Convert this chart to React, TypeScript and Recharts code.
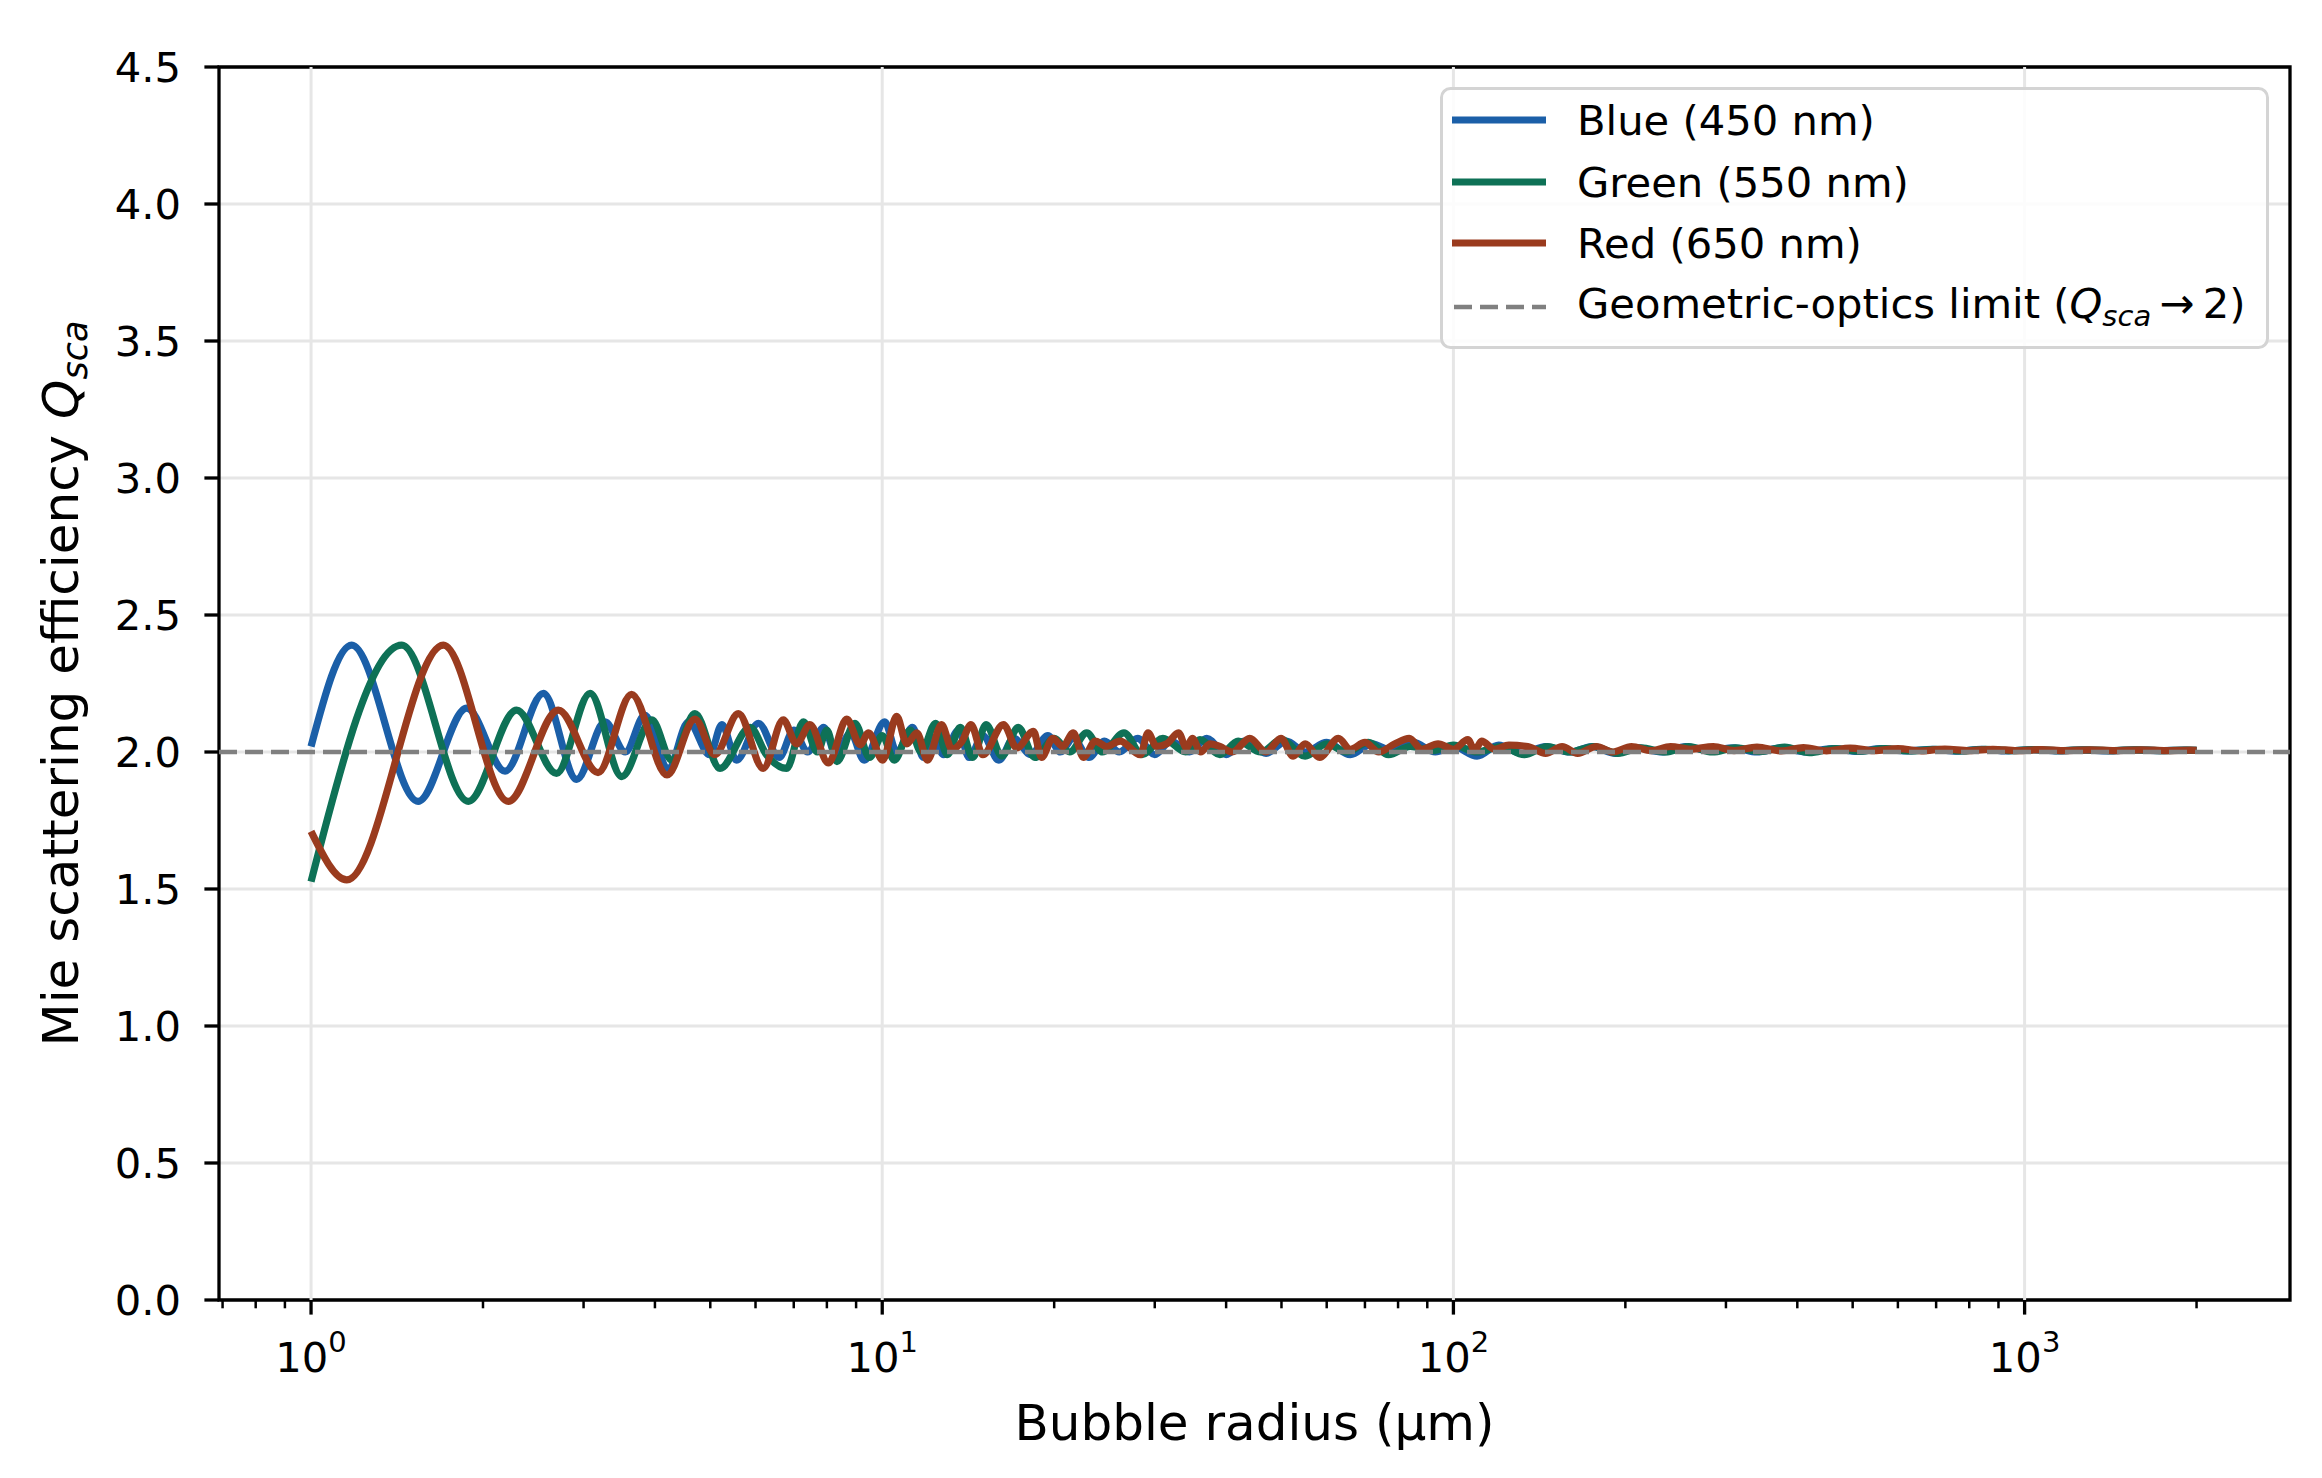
import React from 'react';
import { LineChart, Line, XAxis, YAxis, CartesianGrid, ReferenceLine, ReferenceArea } from 'recharts';

// [bubble radius (µm), Q_sca]
const bluePoints: [number, number][] = [
  [1.0, 2.02], [1.178, 2.39], [1.54, 1.82], [1.873, 2.16], [2.186, 1.93], [2.551, 2.214], [2.918, 1.9],
  [3.27, 2.11], [3.55, 2.0], [3.84, 2.135], [4.22, 1.94], [4.58, 2.11], [4.99, 1.99], [5.24, 2.1],
  [5.56, 1.97], [6.07, 2.105], [6.6, 1.98], [7.0, 2.08], [7.4, 2.0], [7.9, 2.09], [8.3, 1.99], [8.8, 2.07],
  [9.3, 1.97], [10.1, 2.11], [10.6, 2.0], [11.3, 2.09], [11.8, 1.98], [12.3, 2.05], [12.8, 1.99],
  [13.6, 2.08], [14.2, 1.98], [15.0, 2.06], [16.0, 1.97], [17.0, 2.05], [18.2, 1.99], [19.5, 2.06],
  [20.5, 2.0], [21.6, 2.05], [23.0, 1.98], [24.5, 2.04], [26.0, 2.0], [28.0, 2.05], [30.0, 1.99],
  [32.0, 2.04], [34.5, 2.0], [37.0, 2.05], [40.0, 1.99], [43.0, 2.04], [47.0, 1.995], [51.0, 2.04],
  [55.0, 2.0], [60.0, 2.035], [66.0, 1.99], [72.0, 2.03], [78.0, 2.005], [85.0, 2.035], [93.0, 2.0],
  [100, 2.02], [110, 1.985], [120, 2.025], [132, 1.995], [145, 2.02], [160, 2.0], [175, 2.02],
  [192, 1.995], [210, 2.015], [232, 2.0], [255, 2.02], [280, 2.005], [310, 2.015], [340, 2.0],
  [375, 2.015], [415, 2.0], [460, 2.012], [510, 2.002], [560, 2.012], [620, 2.004], [690, 2.01],
  [760, 2.003], [840, 2.01], [930, 2.004], [1030, 2.009], [1140, 2.004], [1260, 2.008], [1400, 2.004],
  [1550, 2.008], [1720, 2.005], [1900, 2.007], [2000, 2.006],
];

const greenPoints: [number, number][] = [
  [1.0, 1.527], [1.442, 2.39], [1.886, 1.82], [2.29, 2.153], [2.69, 1.922], [3.08, 2.214], [3.5, 1.91],
  [3.95, 2.117], [4.28, 1.97], [4.7, 2.14], [5.2, 1.94], [5.87, 2.09], [6.27, 1.99], [6.8, 1.94],
  [7.28, 2.11], [7.7, 2.0], [8.0, 2.08], [8.33, 1.965], [8.96, 2.105], [9.5, 1.98], [10.0, 2.06],
  [10.5, 1.97], [11.2, 2.08], [11.7, 2.0], [12.4, 2.105], [13.0, 1.99], [13.7, 2.09], [14.4, 1.98],
  [15.2, 2.1], [16.2, 1.985], [17.3, 2.09], [18.5, 1.98], [20.0, 2.05], [21.3, 2.0], [22.8, 2.07],
  [24.3, 2.0], [26.5, 2.07], [28.5, 1.99], [31, 2.05], [34, 2.0], [36, 2.045], [39, 1.99], [42, 2.04],
  [46, 2.0], [50, 2.045], [55, 1.985], [60, 2.03], [65, 2.0], [71, 2.035], [77, 1.99], [84, 2.02],
  [92, 2.005], [100, 2.025], [110, 2.0], [121, 2.02], [133, 1.99], [146, 2.02], [160, 2.0], [176, 2.02],
  [194, 1.995], [213, 2.015], [235, 2.0], [258, 2.02], [284, 2.0], [312, 2.015], [345, 2.002],
  [380, 2.018], [420, 1.998], [465, 2.012], [515, 2.003], [570, 2.012], [630, 2.004], [700, 2.01],
  [775, 2.004], [855, 2.01], [945, 2.005], [1045, 2.009], [1160, 2.005], [1280, 2.008], [1420, 2.005],
  [1570, 2.008], [1740, 2.005], [1920, 2.007], [2000, 2.006],
];

const redPoints: [number, number][] = [
  [1.0, 1.71], [1.155, 1.533], [1.705, 2.39], [2.215, 1.82], [2.71, 2.153], [3.18, 1.925], [3.64, 2.21],
  [4.2, 1.916], [4.7, 2.12], [5.09, 1.99], [5.6, 2.14], [6.19, 1.94], [6.71, 2.117], [7.08, 2.03],
  [7.47, 2.1], [8.05, 1.96], [8.67, 2.12], [9.15, 2.026], [9.46, 2.07], [10.02, 1.97], [10.6, 2.13],
  [11.04, 2.03], [11.5, 2.07], [12.0, 1.97], [12.7, 2.1], [13.25, 2.01], [13.8, 2.04], [14.3, 2.1],
  [15.0, 1.99], [16.3, 2.1], [17.2, 2.015], [18.4, 2.075], [19.0, 1.98], [19.9, 2.05], [20.7, 2.02],
  [21.6, 2.07], [22.5, 1.98], [23.6, 2.04], [24.7, 2.02], [26.1, 2.04], [28.3, 1.99], [29.2, 2.07],
  [30.2, 2.02], [31.5, 2.03], [33.0, 2.07], [34.1, 2.015], [34.9, 2.05], [36.1, 2.0], [37.5, 2.03],
  [39, 2.02], [41, 2.0], [44, 2.05], [47, 2.0], [49.9, 2.05], [52.4, 1.985], [55, 2.03], [58.3, 1.98],
  [62.9, 2.05], [66, 2.01], [70, 2.035], [74, 2.0], [79, 2.03], [83.7, 2.05], [88, 2.01], [94, 2.03],
  [100, 2.01], [106, 2.045], [109, 2.005], [112, 2.04], [118, 2.01], [125, 2.025], [135, 2.02],
  [145, 1.995], [155, 2.02], [165, 1.995], [178, 2.02], [190, 2.0], [205, 2.02], [222, 2.005],
  [240, 2.02], [260, 2.01], [285, 2.02], [310, 2.005], [340, 2.018], [375, 2.004], [410, 2.016],
  [450, 2.004], [495, 2.014], [545, 2.005], [600, 2.012], [660, 2.004], [725, 2.011], [800, 2.005],
  [880, 2.01], [970, 2.005], [1070, 2.009], [1180, 2.005], [1300, 2.008], [1440, 2.005], [1600, 2.008],
  [1770, 2.005], [1950, 2.007], [2000, 2.006],
];

const xMajorTicks = [1, 10, 100, 1000];
const xMinorTicks = [
  0.7, 0.8, 0.9, 2, 3, 4, 5, 6, 7, 8, 9, 20, 30, 40, 50, 60, 70, 80, 90,
  200, 300, 400, 500, 600, 700, 800, 900, 2000,
];
const yTicks = [0, 0.5, 1, 1.5, 2, 2.5, 3, 3.5, 4, 4.5];
const geometricLimit = 2;

const series = [
  { name: 'Blue (450 nm)', color: '#1b5fa8', points: bluePoints },
  { name: 'Green (550 nm)', color: '#0e7156', points: greenPoints },
  { name: 'Red (650 nm)', color: '#9a3b1e', points: redPoints },
];

const FONT = 'DejaVu Sans, sans-serif';
const TICK_FS = 41.7;
const LINE_W = 7.2;

const XTick = (props: any) => {
  const { x, y, payload } = props;
  const v = payload.value;
  const major = xMajorTicks.includes(v);
  return (
    <g>
      <line x1={x} x2={x} y1={y} y2={y + (major ? 14.6 : 8.3)} stroke="#000" strokeWidth={major ? 3.3 : 2.5} />
      {major && (
        <text x={x} y={y + 72} textAnchor="middle" fontSize={TICK_FS} fontFamily={FONT} fill="#000">
          10<tspan dy={-20} fontSize={29}>{Math.round(Math.log10(v))}</tspan>
        </text>
      )}
    </g>
  );
};

const YTick = (props: any) => {
  const { x, y, payload } = props;
  return (
    <g>
      <line x1={x - 14.6} x2={x} y1={y} y2={y} stroke="#000" strokeWidth={3.3} />
      <text x={x - 38} y={y + 15} textAnchor="end" fontSize={TICK_FS} fontFamily={FONT} fill="#000">
        {payload.value.toFixed(1)}
      </text>
    </g>
  );
};

const XTitle = (props: any) => {
  const vb = props.viewBox;
  return (
    <text x={vb.x + vb.width / 2} y={vb.y + 140} textAnchor="middle" fontSize={50} fontFamily={FONT} fill="#000">
      Bubble radius (µm)
    </text>
  );
};

const YTitle = (props: any) => {
  const vb = props.viewBox;
  const cx = 78;
  const cy = vb.y + vb.height / 2;
  return (
    <text x={cx} y={cy} transform={`rotate(-90 ${cx} ${cy})`} textAnchor="middle" fontSize={50} fontFamily={FONT} fill="#000">
      Mie scattering efficiency <tspan fontStyle="italic">Q</tspan>
      <tspan fontStyle="italic" fontSize={35} dy={9}>sca</tspan>
    </text>
  );
};

const LegendBox = () => {
  const rowY = [33, 95, 156, 220];
  return (
    <svg width={830} height={264} style={{ position: 'absolute', left: 1440, top: 87 }}>
      <rect x={1.5} y={1.5} width={826} height={259} rx={9} fill="rgba(255,255,255,0.85)" stroke="#d4d4d4" strokeWidth={3} />
      {series.map((s, i) => (
        <g key={s.name}>
          <line x1={12} x2={106} y1={rowY[i]} y2={rowY[i]} stroke={s.color} strokeWidth={LINE_W} />
          <text x={137} y={rowY[i] + 15} fontSize={TICK_FS} fontFamily={FONT} fill="#000">{s.name}</text>
        </g>
      ))}
      <line x1={14} x2={106} y1={rowY[3]} y2={rowY[3]} stroke="#808080" strokeWidth={4.5} strokeDasharray="18 8" />
      <text x={137} y={rowY[3] + 11} fontSize={TICK_FS} fontFamily={FONT} fill="#000">
        Geometric-optics limit (<tspan fontStyle="italic">Q</tspan>
        <tspan fontStyle="italic" fontSize={29} dy={8}>sca</tspan>
        <tspan dy={-8}>{'\u2009→\u20092)'}</tspan>
      </text>
    </svg>
  );
};

export default function App() {
  return (
    <div style={{ position: 'absolute', left: 0, top: 0, width: 2322, height: 1478, background: '#fff', fontFamily: FONT }}>
      <LineChart width={2322} height={1478} margin={{ top: 67, right: 32, bottom: 0, left: 0 }}>
        <CartesianGrid vertical={false} stroke="#e6e6e6" strokeWidth={3} />
        {xMajorTicks.map((t) => (
          <ReferenceLine key={t} x={t} stroke="#e6e6e6" strokeWidth={3} />
        ))}
        <XAxis
          type="number"
          dataKey="r"
          scale="log"
          domain={[0.69, 2915]}
          allowDataOverflow
          ticks={[...xMinorTicks, ...xMajorTicks].sort((a, b) => a - b)}
          interval={0}
          tick={<XTick />}
          tickLine={false}
          axisLine={false}
          tickSize={0}
          tickMargin={0}
          height={178}
          label={<XTitle />}
        />
        <YAxis
          type="number"
          domain={[0, 4.5]}
          ticks={yTicks}
          interval={0}
          tick={<YTick />}
          tickLine={false}
          axisLine={false}
          tickSize={0}
          tickMargin={0}
          width={219}
          label={<YTitle />}
        />
        {series.map((s) => (
          <Line
            key={s.name}
            data={s.points.map(([r, q]) => ({ r, q }))}
            dataKey="q"
            type="monotone"
            stroke={s.color}
            strokeWidth={LINE_W}
            dot={false}
            isAnimationActive={false}
          />
        ))}
        <ReferenceLine y={geometricLimit} stroke="#808080" strokeWidth={4.5} strokeDasharray="18 8" />
        <ReferenceArea x1={0.69} x2={2915} y1={0} y2={4.5} ifOverflow="visible" fill="none" stroke="#000" strokeWidth={3.3} />
      </LineChart>
      <LegendBox />
    </div>
  );
}
